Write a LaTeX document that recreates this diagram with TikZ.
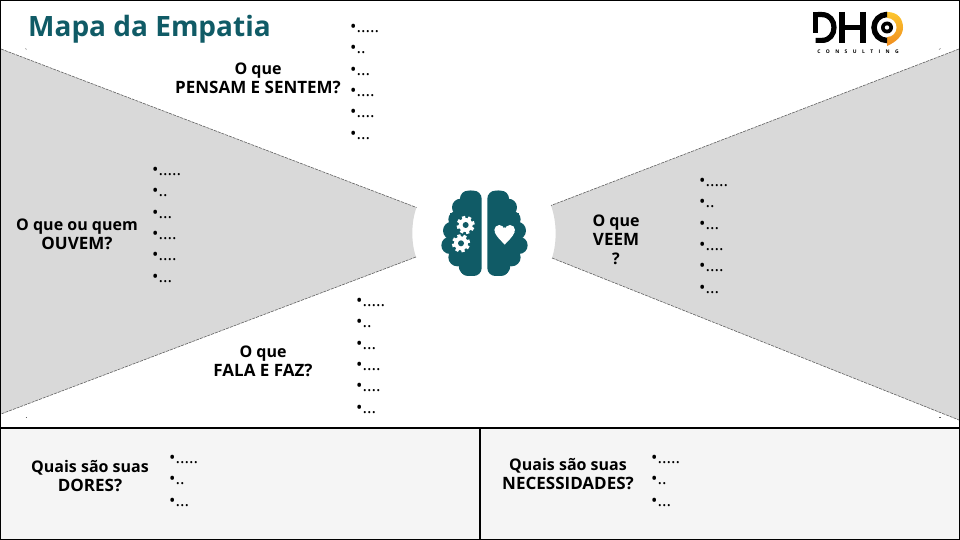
\documentclass[tikz,border=0pt]{standalone}
\usepackage{fontspec}
\setmainfont{Open Sans}
\definecolor{teal1}{HTML}{105B66}
\definecolor{wedge}{HTML}{D9D9D9}
\definecolor{panel}{HTML}{F5F5F5}
\definecolor{edgec}{HTML}{606060}
\definecolor{orange1}{HTML}{F08C1E}
\definecolor{orange2}{HTML}{FCC62F}
\tikzset{
  x=1pt,y=-1pt,
  wedgefill/.style={fill=wedge},
  wedgeedge/.style={draw=edgec,line width=0.6pt,dash pattern=on 3pt off 1pt},
  tick/.style={draw=edgec,line width=0.5pt},
  label/.style={font=\fontsize{16}{19}\selectfont\bfseries,align=center,inner sep=0pt,text=black},
  items/.style={font=\fontsize{17}{21.35}\selectfont,align=left,inner sep=0pt,anchor=north west,text=black},
  pane/.style={fill=panel,draw=black,line width=1.8pt},
  logoink/.style={draw=black,line width=5.2pt},
}
\newcommand{\caps}[1]{{\fontsize{17}{19}\selectfont #1}}
\newcommand{\sixitems}{•.....\\•..\\•...\\•....\\•....\\•...}
\newcommand{\threeitems}{•.....\\•..\\•...}
\newcommand{\brainlobes}{%
  \fill (212,92) circle (30);
  \fill (182,112) circle (26);
  \fill (170,148) circle (25);
  \fill (156,182) circle (27);
  \fill (150,226) circle (26);
  \fill (172,262) circle (27);
  \fill (205,288) circle (29);
  \fill (150,130) rectangle (200,270);
  \fill[rounded corners=8] (180,62) rectangle (245,318);
}
\newcommand{\gearat}[2]{%
  \begin{scope}[shift={(#1,#2)}]
    \foreach \a in {0,45,...,315}{
      \fill[white,rotate=\a+15] (-5,-27) rectangle (5,0);
    }
    \fill[white] (0,0) circle (21);
    \fill[teal1] (0,0) circle (9);
  \end{scope}}
\begin{document}
\begin{tikzpicture}
\useasboundingbox (0,0) rectangle (960,540);
\fill[white] (0,0) rectangle (960,540);

% wedges
\fill[wedgefill] (1,49) -- (416.5,207.5) .. controls (411,222) and (411,243) .. (416,257) -- (1,414) -- cycle;
\fill[wedgefill] (959,49) -- (551,205.5) .. controls (557,222) and (557,243) .. (552,258) -- (959,420) -- cycle;
\draw[wedgeedge] (1,49) -- (416.5,207.5);
\draw[wedgeedge] (416,257) -- (1,414);
\draw[wedgeedge] (959,49) -- (551,205.5);
\draw[wedgeedge] (552,258) -- (959,420);
\draw[tick] (25.5,48.5) -- (26.5,49.5);
\draw[tick] (25.5,417.5) -- (27,417.5);
\draw[tick] (939,49.5) -- (940.5,48.5);
\draw[tick] (939,417.5) -- (941,417.5);

% bottom panels
\path[pane] (0,428) rectangle (480,540);
\path[pane] (480,428) rectangle (960,540);
\draw[black,line width=1.2pt] (0.5,0.5) rectangle (959.5,539.5);

% title
\node[inner sep=0pt,anchor=west,text=teal1,font=\fontsize{28}{30}\selectfont\bfseries] (title) at (28,29) {Mapa da Empatia};

% labels
\node[label] (pensam) at (258,78.5) {O que\\\caps{PENSAM E SENTEM?}};
\node[label] (ouvem) at (77,234.5) {O que ou quem\\\caps{OUVEM?}};
\node[label] (veem) at (616,240) {O que\\\caps{VEEM}\\?};
\node[label] (fala) at (263,361.5) {O que\\\caps{FALA E FAZ?}};
\node[label] (dores) at (90,476.5) {Quais são suas\\\caps{DORES?}};
\node[label] (necess) at (568,474.5) {Quais são suas\\\caps{NECESSIDADES?}};

% item lists
\node[items] (l1) at (350,24) {\sixitems};
\node[items] (l2) at (152,167) {\sixitems};
\node[items] (l3) at (699,178) {\sixitems};
\node[items] (l4) at (356,298) {\sixitems};
\node[items] (l5) at (169,455) {\threeitems};
\node[items] (l6) at (651,455) {\threeitems};

% brain
\begin{scope}[shift={(400,170)},x=0.3333pt,y=-0.3333pt,fill=teal1]
  \brainlobes
  \begin{scope}[shift={(507,0)},xscale=-1]
    \brainlobes
  \end{scope}
  \gearat{197}{165}
  \gearat{183}{220}
  \fill[white] (298,180) circle (15);
  \fill[white] (330,180) circle (15);
  \fill[white] (284,186) .. controls (290,202) and (304,212) .. (314,224)
     .. controls (324,212) and (338,202) .. (344,186) -- (314,172) -- cycle;
\end{scope}

% logo
\draw[logoink] (818,14.6) -- (822,14.6) .. controls (838,14.6) and (838,40.4) .. (822,40.4) -- (815.6,40.4);
\draw[logoink] (815.6,12) -- (815.6,33);
\draw[logoink] (842,12) -- (842,43);
\draw[logoink] (863,12) -- (863,43);
\draw[logoink] (842,27.5) -- (863,27.5);
\begin{scope}
  \clip (887,5) rectangle (910,50);
  \shade[top color=orange2,bottom color=orange1] (887,12) .. controls (898,12) and (903,19) .. (903,27.5)
     .. controls (903,36) and (896,42) .. (887,46) -- cycle;
\end{scope}
\begin{scope}
  \clip (865,5) rectangle (887,50);
  \draw[black,line width=5.5pt] (887,27.5) circle (13);
\end{scope}
\fill[white] (887,27.5) circle (9.5);
\fill[black] (887,27.5) circle (6);
\fill[white] (887,27.5) circle (2.2);
\node[inner sep=0pt,font=\fontsize{5}{6}\selectfont\bfseries,text=black] (consult) at (858,52) {C\hspace{5.4pt}O\hspace{5.4pt}N\hspace{5.4pt}S\hspace{5.4pt}U\hspace{5.4pt}L\hspace{5.4pt}T\hspace{5.4pt}I\hspace{5.4pt}N\hspace{5.4pt}G};
\end{tikzpicture}
\end{document}
